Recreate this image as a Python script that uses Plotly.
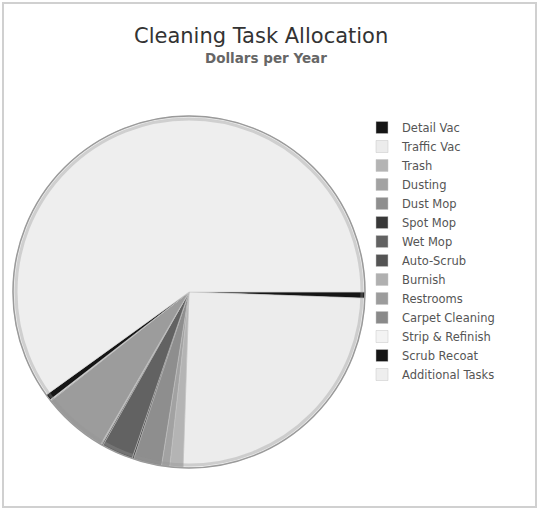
import plotly.graph_objects as go

tasks = ["Detail Vac", "Traffic Vac", "Trash", "Dusting", "Dust Mop", "Spot Mop",
         "Wet Mop", "Auto-Scrub", "Burnish", "Restrooms", "Carpet Cleaning",
         "Strip & Refinish", "Scrub Recoat", "Additional Tasks"]
dollars = [560, 25000, 1220, 750, 2600, 150, 2900, 120, 100, 6000, 80, 60, 560, 60000]
colors = ["#151515", "#ececec", "#b4b4b4", "#a2a2a2", "#8e8e8e", "#383838",
          "#626262", "#545454", "#b0b0b0", "#9c9c9c", "#8a8a8a", "#f3f3f3",
          "#151515", "#eeeeee"]

W, H = 540, 509
cx, cy, r = 189, 292, 176

fig = go.Figure(go.Pie(
    labels=tasks, values=dollars, sort=False, direction="clockwise", rotation=90,
    marker=dict(colors=colors, line=dict(color="#c4c4c4", width=0.5)),
    textinfo="none", hoverinfo="label+value+percent",
    domain=dict(x=[(cx - r) / W, (cx + r) / W], y=[(H - cy - r) / H, (H - cy + r) / H]),
))

fig.update_layout(
    width=W, height=H, paper_bgcolor="white", plot_bgcolor="white",
    margin=dict(l=0, r=0, t=0, b=0),
    font=dict(family="DejaVu Sans", color="#444"),
    showlegend=True,
    legend=dict(x=362 / W, y=1 - 113 / H, xanchor="left", yanchor="top",
                font=dict(size=11.5, color="#555", family="DejaVu Sans"),
                bgcolor="rgba(0,0,0,0)", itemwidth=30, tracegroupgap=0),
    annotations=[
        dict(text="Cleaning Task Allocation", x=261 / W, y=1 - 36 / H, xref="paper", yref="paper",
             showarrow=False, font=dict(size=21, color="#333", family="DejaVu Sans"),
             xanchor="center", yanchor="middle"),
        dict(text="<b>Dollars per Year</b>", x=266 / W, y=1 - 58 / H, xref="paper", yref="paper",
             showarrow=False, font=dict(size=13.5, color="#666", family="DejaVu Sans"),
             xanchor="center", yanchor="middle"),
    ],
    shapes=[
        dict(type="rect", xref="paper", yref="paper",
             x0=3 / W, x1=536 / W, y0=1 - 507 / H, y1=1 - 3 / H,
             line=dict(color="#d0d0d0", width=2), layer="below"),
        dict(type="circle", xref="paper", yref="paper",
             x0=(cx - r) / W, x1=(cx + r) / W, y0=(H - cy - r) / H, y1=(H - cy + r) / H,
             line=dict(color="#9a9a9a", width=1.5), layer="above"),
        dict(type="circle", xref="paper", yref="paper",
             x0=(cx - r + 3) / W, x1=(cx + r - 3) / W, y0=(H - cy - r + 3) / H, y1=(H - cy + r - 3) / H,
             line=dict(color="rgba(150,150,150,0.35)", width=3), layer="above"),
    ],
)

fig.write_html("out.html", config={"displayModeBar": False},
               post_script="document.body.style.margin='0px';")
